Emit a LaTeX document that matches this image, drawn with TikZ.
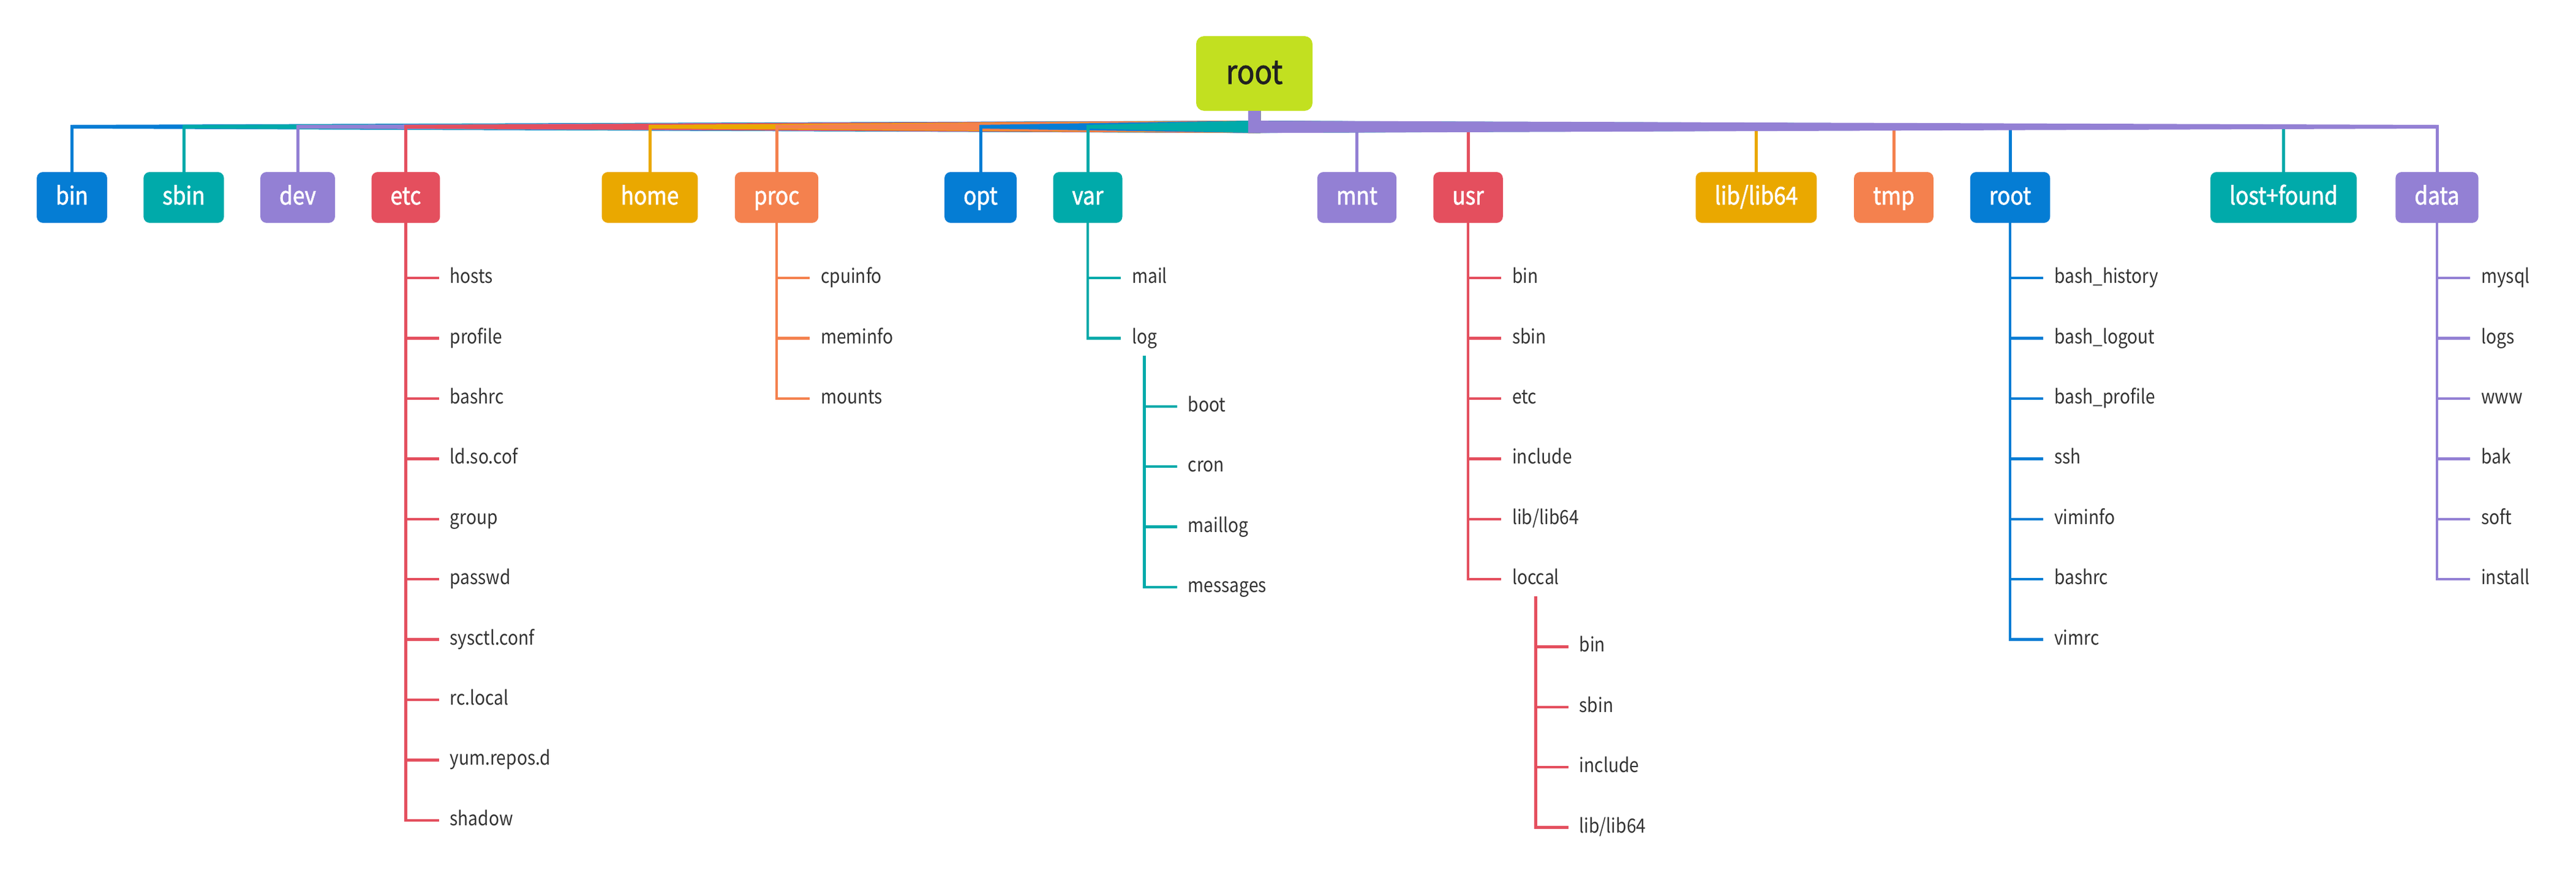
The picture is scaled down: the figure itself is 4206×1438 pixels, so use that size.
\documentclass[tikz,border=0pt]{standalone}
\usepackage{fontspec}
\setmainfont{Noto Sans CJK SC}[FakeStretch=0.88]
\newfontfamily\boxfont{Noto Sans CJK SC}[FakeStretch=0.88,FakeBold=1.6]
\usetikzlibrary{positioning,calc}
\definecolor{lime}{HTML}{C2E020}
\definecolor{cblue}{HTML}{057DD4}
\definecolor{cteal}{HTML}{00AAAA}
\definecolor{cpurple}{HTML}{9380D4}
\definecolor{cred}{HTML}{E44F5E}
\definecolor{cgold}{HTML}{EAA800}
\definecolor{corange}{HTML}{F4814E}
\definecolor{ink}{HTML}{333333}

\begin{document}
\begin{tikzpicture}[x=1pt,y=1pt,
    rootbox/.style={rounded corners=13pt,fill=lime,text=black!87,minimum width=190pt,minimum height=122pt,
      font=\fontsize{54}{62}\boxfont,text height=40pt,text depth=6pt},
    dir/.style={rounded corners=10pt,fill=#1,text=white,minimum height=83pt,inner xsep=31pt,
      font=\fontsize{40}{48}\boxfont,text height=29pt,text depth=6pt},
    leaf/.style={anchor=west,text=ink,inner xsep=18pt,inner ysep=12.5pt,
      font=\fontsize{32}{38}\selectfont,text height=24pt,text depth=7pt},
    under/.style={below=42pt of #1.south west,anchor=north west},
    drop/.style={draw=#1,line width=5pt},
    twig/.style={draw=#1,line width=4.5pt}]
    \useasboundingbox (0,0) rectangle (4206,-1438);

    \node[rootbox] (top) at (2048,-120) {root};
    \coordinate (sl) at ($(top.south)+(-10,0)$);
    \coordinate (sr) at ($(top.south)+(10,0)$);
    \coordinate (tl) at ($(top.south)+(-10,-16)$);
    \coordinate (tr) at ($(top.south)+(10,-16)$);
    \coordinate (bl) at ($(top.south)+(-10,-36)$);
    \coordinate (br) at ($(top.south)+(10,-36)$);
    \coordinate (thinT) at (0,-204);
    \coordinate (thinB) at (0,-210);

    % first level
    \node[dir=cblue] (bin) at (117.5,-322.5) {bin};
    \node[dir=cteal] (sbin) at (300,-322.5) {sbin};
    \node[dir=cpurple] (dev) at (486,-322.5) {dev};
    \node[dir=cred] (etc) at (662.5,-322.5) {etc};
    \node[dir=cgold] (home) at (1061,-322.5) {home};
    \node[dir=corange] (proc) at (1268,-322.5) {proc};
    \node[dir=cblue] (opt) at (1601,-322.5) {opt};
    \node[dir=cteal] (var) at (1776,-322.5) {var};
    \node[dir=cpurple] (mnt) at (2215.5,-322.5) {mnt};
    \node[dir=cred] (usr) at (2397,-322.5) {usr};
    \node[dir=cgold] (lib) at (2867.5,-322.5) {lib/lib64};
    \node[dir=corange] (tmp) at (3092,-322.5) {tmp};
    \node[dir=cblue] (rootdir) at (3282,-322.5) {root};
    \node[dir=cteal] (lost) at (3728.5,-322.5) {lost+found};
    \node[dir=cpurple] (data) at (3979,-322.5) {data};

    % tapered branches, drawn left to right
    \fill[cblue] (sl) -- (sr) -- (br) -- (bin |- thinB) -- (bin |- thinT) -- (tl) -- cycle;
    \draw[drop=cblue] (bin |- thinT) -- (bin);
    \fill[cteal] (sl) -- (sr) -- (br) -- (sbin |- thinB) -- (sbin |- thinT) -- (tl) -- cycle;
    \draw[drop=cteal] (sbin |- thinT) -- (sbin);
    \fill[cpurple] (sl) -- (sr) -- (br) -- (dev |- thinB) -- (dev |- thinT) -- (tl) -- cycle;
    \draw[drop=cpurple] (dev |- thinT) -- (dev);
    \fill[cred] (sl) -- (sr) -- (br) -- (etc |- thinB) -- (etc |- thinT) -- (tl) -- cycle;
    \draw[drop=cred] (etc |- thinT) -- (etc);
    \fill[cgold] (sl) -- (sr) -- (br) -- (home |- thinB) -- (home |- thinT) -- (tl) -- cycle;
    \draw[drop=cgold] (home |- thinT) -- (home);
    \fill[corange] (sl) -- (sr) -- (br) -- (proc |- thinB) -- (proc |- thinT) -- (tl) -- cycle;
    \draw[drop=corange] (proc |- thinT) -- (proc);
    \fill[cblue] (sl) -- (sr) -- (br) -- (opt |- thinB) -- (opt |- thinT) -- (tl) -- cycle;
    \draw[drop=cblue] (opt |- thinT) -- (opt);
    \fill[cteal] (sl) -- (sr) -- (br) -- (var |- thinB) -- (var |- thinT) -- (tl) -- cycle;
    \draw[drop=cteal] (var |- thinT) -- (var);
    \fill[cpurple] (sl) -- (sr) -- (tr) -- (mnt |- thinT) -- (mnt |- thinB) -- (bl) -- cycle;
    \draw[drop=cpurple] (mnt |- thinT) -- (mnt);
    \fill[cred] (sl) -- (sr) -- (tr) -- (usr |- thinT) -- (usr |- thinB) -- (bl) -- cycle;
    \draw[drop=cred] (usr |- thinT) -- (usr);
    \fill[cgold] (sl) -- (sr) -- (tr) -- (lib |- thinT) -- (lib |- thinB) -- (bl) -- cycle;
    \draw[drop=cgold] (lib |- thinT) -- (lib);
    \fill[corange] (sl) -- (sr) -- (tr) -- (tmp |- thinT) -- (tmp |- thinB) -- (bl) -- cycle;
    \draw[drop=corange] (tmp |- thinT) -- (tmp);
    \fill[cblue] (sl) -- (sr) -- (tr) -- (rootdir |- thinT) -- (rootdir |- thinB) -- (bl) -- cycle;
    \draw[drop=cblue] (rootdir |- thinT) -- (rootdir);
    \fill[cteal] (sl) -- (sr) -- (tr) -- (lost |- thinT) -- (lost |- thinB) -- (bl) -- cycle;
    \draw[drop=cteal] (lost |- thinT) -- (lost);
    \fill[cpurple] (sl) -- (sr) -- (tr) -- (data |- thinT) -- (data |- thinB) -- (bl) -- cycle;
    \draw[drop=cpurple] (data |- thinT) -- (data);

    % etc
    \node[leaf] (E1) at ($(etc.south)+(54,-90)$) {hosts};
    \node[leaf,under=E1] (E2) {profile};
    \node[leaf,under=E2] (E3) {bashrc};
    \node[leaf,under=E3] (E4) {ld.so.cof};
    \node[leaf,under=E4] (E5) {group};
    \node[leaf,under=E5] (E6) {passwd};
    \node[leaf,under=E6] (E7) {sysctl.conf};
    \node[leaf,under=E7] (E8) {rc.local};
    \node[leaf,under=E8] (E9) {yum.repos.d};
    \node[leaf,under=E9] (E10) {shadow};
    \draw[twig=cred] (etc) |- (E1);
    \draw[twig=cred] (etc) |- (E2);
    \draw[twig=cred] (etc) |- (E3);
    \draw[twig=cred] (etc) |- (E4);
    \draw[twig=cred] (etc) |- (E5);
    \draw[twig=cred] (etc) |- (E6);
    \draw[twig=cred] (etc) |- (E7);
    \draw[twig=cred] (etc) |- (E8);
    \draw[twig=cred] (etc) |- (E9);
    \draw[twig=cred] (etc) |- (E10);

    % proc
    \node[leaf] (P1) at ($(proc.south)+(54,-90)$) {cpuinfo};
    \node[leaf,under=P1] (P2) {meminfo};
    \node[leaf,under=P2] (P3) {mounts};
    \draw[twig=corange] (proc) |- (P1);
    \draw[twig=corange] (proc) |- (P2);
    \draw[twig=corange] (proc) |- (P3);

    % var and var/log
    \node[leaf] (V1) at ($(var.south)+(54,-90)$) {mail};
    \node[leaf,under=V1] (V2) {log};
    \draw[twig=cteal] (var) |- (V1);
    \draw[twig=cteal] (var) |- (V2);
    \node[leaf] (L1) at ($(V2.south)+(53,-83)$) {boot};
    \node[leaf,under=L1] (L2) {cron};
    \node[leaf,under=L2] (L3) {maillog};
    \node[leaf,under=L3] (L4) {messages};
    \draw[twig=cteal] (V2) |- (L1);
    \draw[twig=cteal] (V2) |- (L2);
    \draw[twig=cteal] (V2) |- (L3);
    \draw[twig=cteal] (V2) |- (L4);

    % usr and usr/loccal
    \node[leaf] (U1) at ($(usr.south)+(54,-90)$) {bin};
    \node[leaf,under=U1] (U2) {sbin};
    \node[leaf,under=U2] (U3) {etc};
    \node[leaf,under=U3] (U4) {include};
    \node[leaf,under=U4] (U5) {lib/lib64};
    \node[leaf,under=U5] (U6) {loccal};
    \draw[twig=cred] (usr) |- (U1);
    \draw[twig=cred] (usr) |- (U2);
    \draw[twig=cred] (usr) |- (U3);
    \draw[twig=cred] (usr) |- (U4);
    \draw[twig=cred] (usr) |- (U5);
    \draw[twig=cred] (usr) |- (U6);
    \node[leaf] (C1) at ($(U6.south)+(53,-82)$) {bin};
    \node[leaf,under=C1] (C2) {sbin};
    \node[leaf,under=C2] (C3) {include};
    \node[leaf,under=C3] (C4) {lib/lib64};
    \draw[twig=cred] (U6) |- (C1);
    \draw[twig=cred] (U6) |- (C2);
    \draw[twig=cred] (U6) |- (C3);
    \draw[twig=cred] (U6) |- (C4);

    % root
    \node[leaf] (R1) at ($(rootdir.south)+(54,-90)$) {bash\_history};
    \node[leaf,under=R1] (R2) {bash\_logout};
    \node[leaf,under=R2] (R3) {bash\_profile};
    \node[leaf,under=R3] (R4) {ssh};
    \node[leaf,under=R4] (R5) {viminfo};
    \node[leaf,under=R5] (R6) {bashrc};
    \node[leaf,under=R6] (R7) {vimrc};
    \draw[twig=cblue] (rootdir) |- (R1);
    \draw[twig=cblue] (rootdir) |- (R2);
    \draw[twig=cblue] (rootdir) |- (R3);
    \draw[twig=cblue] (rootdir) |- (R4);
    \draw[twig=cblue] (rootdir) |- (R5);
    \draw[twig=cblue] (rootdir) |- (R6);
    \draw[twig=cblue] (rootdir) |- (R7);

    % data
    \node[leaf] (D1) at ($(data.south)+(54,-90)$) {mysql};
    \node[leaf,under=D1] (D2) {logs};
    \node[leaf,under=D2] (D3) {www};
    \node[leaf,under=D3] (D4) {bak};
    \node[leaf,under=D4] (D5) {soft};
    \node[leaf,under=D5] (D6) {install};
    \draw[twig=cpurple] (data) |- (D1);
    \draw[twig=cpurple] (data) |- (D2);
    \draw[twig=cpurple] (data) |- (D3);
    \draw[twig=cpurple] (data) |- (D4);
    \draw[twig=cpurple] (data) |- (D5);
    \draw[twig=cpurple] (data) |- (D6);
\end{tikzpicture}
\end{document}
